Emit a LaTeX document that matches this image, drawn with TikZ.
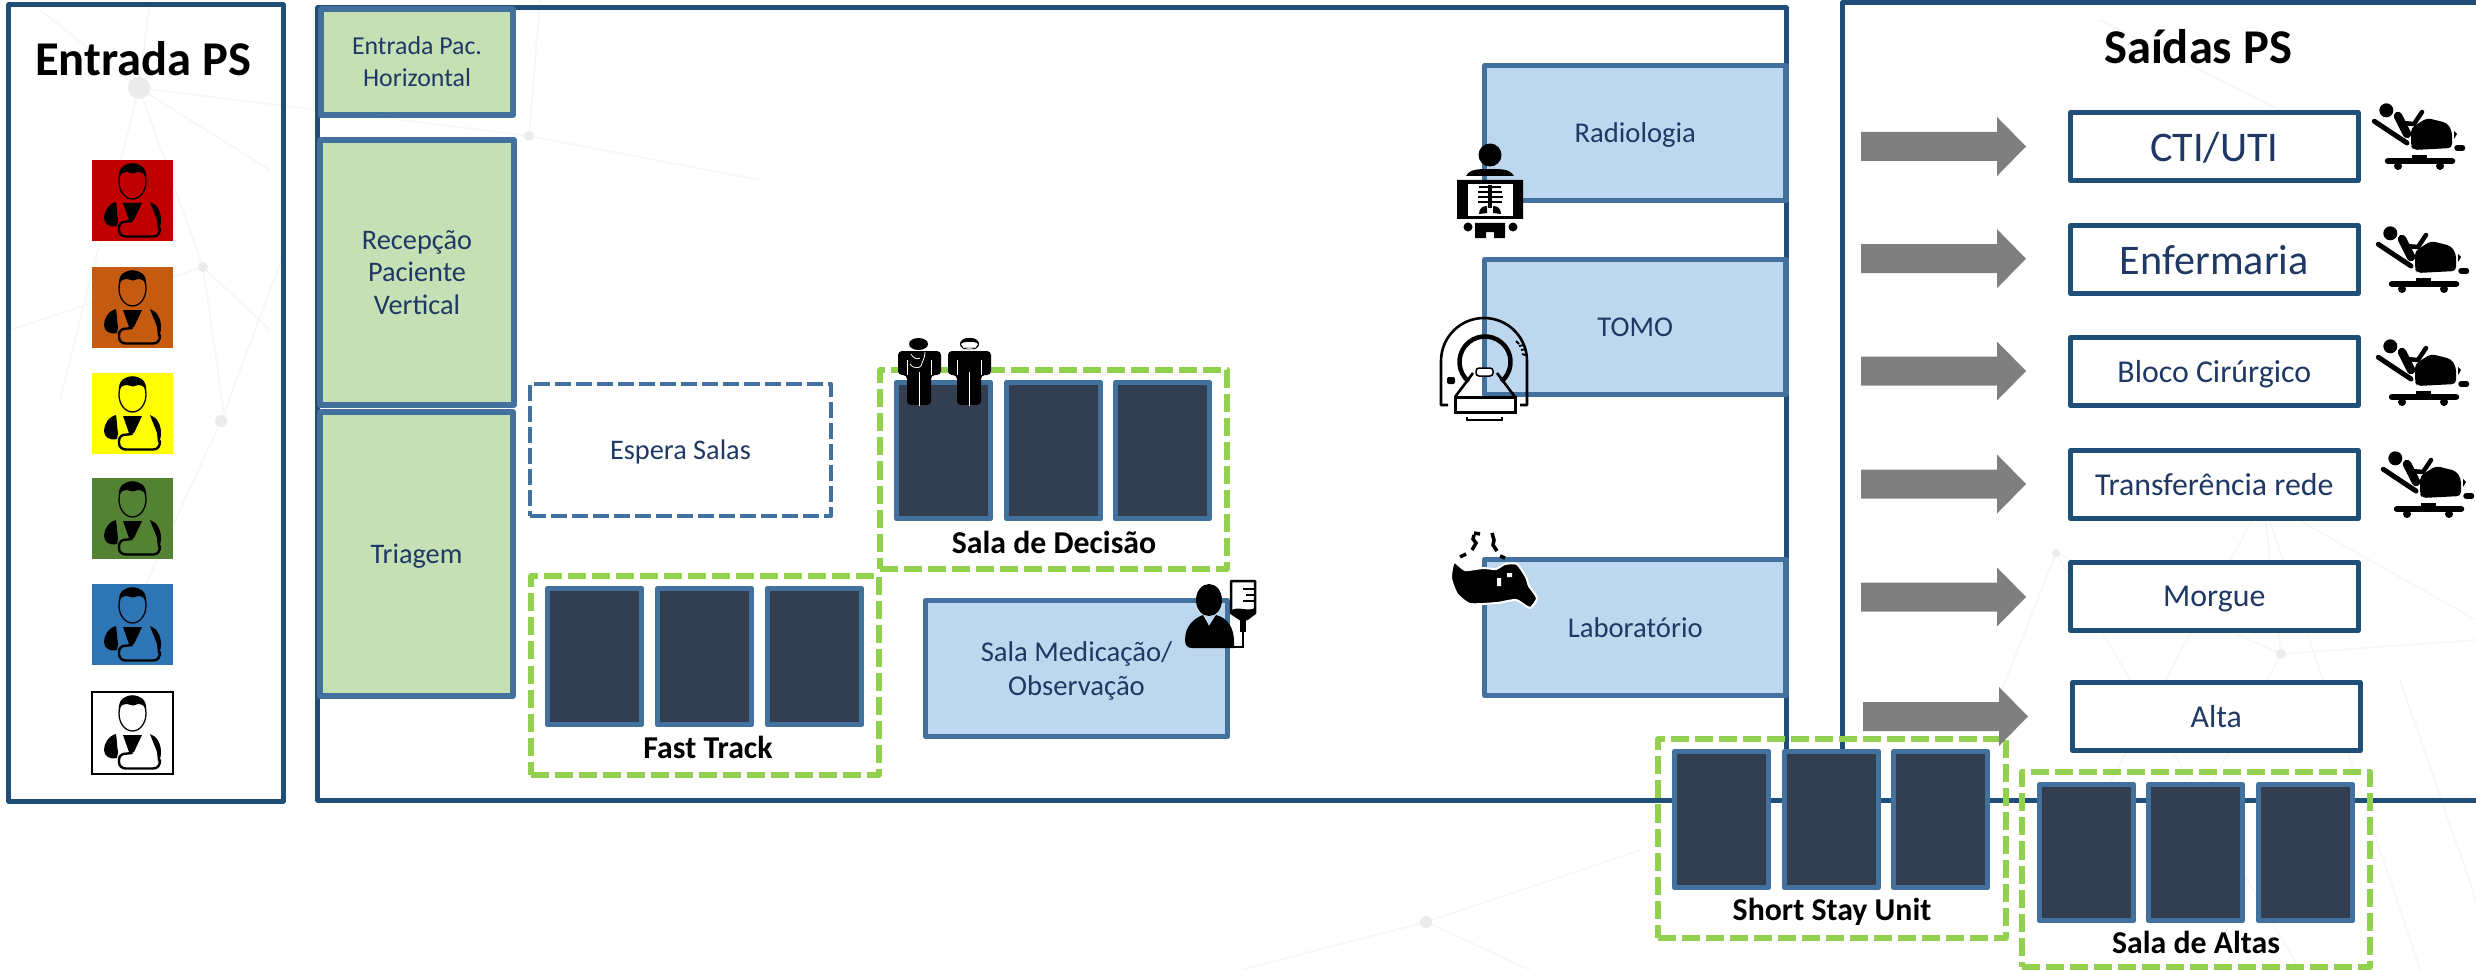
\documentclass[tikz,border=0pt]{standalone}
\usepackage{fontspec}
\setmainfont{Carlito}
\definecolor{navy}{HTML}{1F4E79}
\definecolor{steel}{HTML}{41719C}
\definecolor{leaf}{HTML}{C5E0B4}
\definecolor{sky}{HTML}{BDD7EE}
\definecolor{slate}{HTML}{333F50}
\definecolor{lime}{HTML}{92D050}
\definecolor{txt}{HTML}{1F3864}
\definecolor{arrowgrey}{HTML}{7F7F7F}
\definecolor{bgline}{HTML}{F7F7F7}
\definecolor{bgdot}{HTML}{EBEBEB}
\definecolor{tred}{HTML}{C00000}
\definecolor{torange}{HTML}{C55A11}
\definecolor{tyellow}{HTML}{FFFF00}
\definecolor{tgreen}{HTML}{548235}
\definecolor{tblue}{HTML}{2E75B6}
\newcommand\boxat[7]{%
  \pgfmathsetmacro\cx{(#3+#5)/2}%
  \pgfmathsetmacro\cy{(#4+#6)/2}%
  \pgfmathsetmacro\bw{(#5-#3)*0.01}%
  \pgfmathsetmacro\bh{(#6-#4)*0.01}%
  \node[#2,minimum width=\bw cm,minimum height=\bh cm] (#1) at (\cx,\cy) {#7};}
\newcommand\roomat[3]{\node[roombox,anchor=north west] (#1) at (#2+2.5,#3+2.5) {};}
\newcommand\blockarrow[2]{%
  \fill[arrowgrey] (#1,#2-14.5) -- (#1+136,#2-14.5) -- (#1+136,#2-29.5) -- (#1+165,#2) -- (#1+136,#2+29.5) -- (#1+136,#2+14.5) -- (#1,#2+14.5) -- cycle;}
\newcommand\patient[4]{%
  \node[triagesq,fill=#4,anchor=north west] (#1) at (#2,#3) {};
  \begin{scope}[shift={(#2,#3)}]
    \draw[line width=0.013cm] (40.5,21.5) ellipse [x radius=13.5,y radius=17.5];
    \fill (27,18) .. controls (26,7) and (33,3.5) .. (40.5,3.5) .. controls (48,3.5) and (55,7) .. (54,18)
      .. controls (53,14) and (50,12) .. (46,12) -- (41,13.5) -- (35,12) .. controls (31,12) and (28,14) .. (27,18) -- cycle;
    \fill (24,42) .. controls (16,44) and (12,52) .. (12,58) .. controls (12,64) and (18,68) .. (25,66)
      -- (26,60) .. controls (25,54) and (25,48) .. (24,42) -- cycle;
    \fill (58,42) .. controls (65,44) and (69,52) .. (69,60) .. controls (69,64) and (68,68) .. (66,70)
      -- (65,60) .. controls (63,54) and (60,48) .. (58,42) -- cycle;
    \fill (31,43) -- (50,43) -- (42,60) -- (37,60) -- cycle;
    \draw[line width=0.024cm,line cap=round,line join=round] (40,61) -- (31,62) .. controls (27,64) and (27,66) .. (27,70)
      .. controls (27,74) and (30,76.5) .. (34,76.5) -- (61,76.5) .. controls (66,76.5) and (68,73) .. (68,68);
  \end{scope}}
\newcommand\doctorbody[2]{%
  \begin{scope}[shift={(#1,#2)}]
    \fill[rounded corners=0.04cm] (0,13) -- (43,13) -- (43,37) -- (33,37) -- (33,67) -- (9,67) -- (9,37) -- (0,37) -- cycle;
    \draw[white,line width=0.008cm] (21,34) -- (21,68) (9,22) -- (9,37) (33.5,22) -- (33.5,37);
  \end{scope}}
\newcommand\stretcher[2]{%
  \begin{scope}[shift={(#1,#2)}]
    \fill (15.3,7.3) circle [radius=7];
    \draw[line width=0.05cm,line cap=round] (3.3,18.3) -- (36,40);
    \draw[line width=0.085cm,line cap=round] (27,13) -- (36,31);
    \draw[line width=0.045cm,line cap=round,line join=round] (31,20) -- (43,21) -- (51,9);
    \fill[rounded corners=0.04cm] (56,15) -- (76,20) -- (81,28) -- (81,45) -- (42,47) -- (40,43) -- (40,25) -- cycle;
    \fill (83,28) -- (86,31) -- (83,36) -- cycle;
    \draw[line width=0.055cm,line cap=round] (86,45) -- (91.5,45);
    \draw[line width=0.065cm,line cap=round] (17,58) -- (81,58);
    \fill (41,52) rectangle (56,56);
    \fill (27,63) circle [radius=4] (69,63) circle [radius=4];
  \end{scope}}
\tikzset{
  x=0.01cm,y=-0.01cm,
  outerbox/.style={draw=navy,line width=0.05cm,line join=round},
  greenbox/.style={draw=steel,fill=leaf,line width=0.052cm,line join=round,outer sep=0,inner sep=0,text=txt,align=center,text depth=-0.02cm,font=\fontsize{8.05}{9.3}\selectfont},
  bluebox/.style={draw=steel,fill=sky,line width=0.052cm,line join=round,outer sep=0,inner sep=0,text=txt,align=center,text depth=-0.02cm,font=\fontsize{8.15}{9.6}\selectfont},
  roombox/.style={draw=steel,fill=slate,line width=0.052cm,line join=round,outer sep=0,inner sep=0,minimum width=0.94cm,minimum height=1.36cm},
  limebox/.style={draw=lime,line width=0.052cm,line join=round,dash pattern=on 0.18cm off 0.06cm,outer sep=0,inner sep=0},
  waitbox/.style={draw=steel,line width=0.048cm,line join=round,dash pattern=on 0.155cm off 0.055cm,outer sep=0,inner sep=0,text=txt,text depth=-0.02cm,font=\fontsize{8.05}{9.3}\selectfont},
  exitbox/.style={draw=navy,fill=white,line width=0.05cm,line join=round,outer sep=0,inner sep=0,text=txt,text depth=-0.02cm,font=\fontsize{9.05}{10}\selectfont},
  exitbig/.style={exitbox,font=\fontsize{12}{13}\selectfont},
  titletext/.style={font=\fontsize{13.8}{15}\selectfont\bfseries,text=black,inner sep=0},
  grouptext/.style={font=\fontsize{9.05}{10}\selectfont\bfseries,text=black,inner sep=0},
  triagesq/.style={minimum width=0.81cm,minimum height=0.81cm,inner sep=0,outer sep=0},
  bgl/.style={draw=bgline,line width=0.018cm},
}
\begin{document}
\begin{tikzpicture}
\useasboundingbox (0,0) rectangle (2476,970);
\clip (0,0) rectangle (2476,970);
% faint background network
\draw[bgl] (139,88) -- (40,10) (139,88) -- (60,400) (139,88) -- (270,170) (139,88) -- (203,267) (139,88) -- (150,0) (139,88) -- (320,110)
  (203,267) -- (270,330) (203,267) -- (10,330) (203,267) -- (225,421) (221,421) -- (120,640) (221,421) -- (285,250)
  (529,136) -- (320,110) (529,136) -- (540,0) (529,136) -- (760,180) (1426,922) -- (1240,970) (1426,922) -- (1640,850) (1426,922) -- (1530,970)
  (2056,553) -- (1990,720) (2056,553) -- (2281,654) (2263,500) -- (2281,654) (2263,500) -- (2100,800) (2263,500) -- (2476,620)
  (2281,654) -- (2150,900) (2281,654) -- (2476,640) (2056,553) -- (2300,970) (2263,500) -- (2420,970) (2400,680) -- (2476,900) (2100,20) -- (2280,110);
\fill[bgdot] (139,88) circle [radius=11] (203,267) circle [radius=5] (529,136) circle [radius=5] (221,421) circle [radius=6]
  (1426,922) circle [radius=6] (2056,553) circle [radius=4] (2263,500) circle [radius=5] (2281,654) circle [radius=5];
% three main frames
\boxat{entrada}{outerbox}{9}{5}{283}{801}{}
\boxat{mainframe}{outerbox}{318}{8}{1786}{800}{}
\draw[navy,line width=0.05cm,line join=round] (2500,3) coordinate (sa) -- (1842,3) -- (1842,800) -- (2500,800) coordinate (sb);
% titles
\node[titletext] (t1) at (143,59) {Entrada PS};
\node[titletext] (t2) at (2198,47) {Saídas PS};
% triage
\patient{p1}{92}{160}{tred}
\patient{p2}{92}{267}{torange}
\patient{p3}{92}{373}{tyellow}
\patient{p4}{92}{478}{tgreen}
\patient{p5}{92}{584}{tblue}
\node[triagesq,draw=black,line width=0.02cm,fill=white] (p6box) at (132.5,733) {};
\patient{p6}{92}{692}{white}
\draw[black,line width=0.02cm] (p6box.north west) rectangle (p6box.south east);
% green boxes
\boxat{epac}{greenbox,font=\fontsize{7.35}{9.1}\selectfont}{321}{9}{513}{115}{Entrada Pac.\\Horizontal}
\boxat{recep}{greenbox,text depth=0pt}{320}{140}{514}{405}{Recepção\\Paciente\\Vertical}
\boxat{triag}{greenbox}{320}{412}{513}{696}{Triagem}
% waiting
\boxat{espera}{waitbox}{530}{384}{831}{516}{Espera Salas}
% groups
\boxat{gfast}{limebox}{531}{576}{879}{775}{}
\boxat{gdec}{limebox}{880}{370}{1227}{569}{}
\roomat{f1}{545}{586}\roomat{f2}{655}{586}\roomat{f3}{765}{586}
\roomat{d1}{894}{380}\roomat{d2}{1004}{380}\roomat{d3}{1113}{380}
\node[grouptext] (lf) at (708,747) {Fast Track};
\node[grouptext] (ld) at (1054,542) {Sala de Decisão};
% medication room
\boxat{medic}{bluebox}{925.5}{600.5}{1227.5}{736.5}{Sala Medicação/\\Observação}
% diagnostic rooms
\boxat{radio}{bluebox}{1484.5}{65.5}{1786}{200.5}{Radiologia}
\boxat{tomo}{bluebox}{1484.5}{259.5}{1786}{394.5}{TOMO}
\boxat{lab}{bluebox}{1484.5}{559.5}{1786}{695.5}{Laboratório}
% exits
\boxat{cti}{exitbig}{2070.5}{112.5}{2358}{180.5}{CTI/UTI}
\boxat{enf}{exitbig}{2070.5}{225.5}{2358}{293.5}{Enfermaria}
\boxat{bloco}{exitbox}{2070.5}{337.5}{2358}{405.5}{Bloco Cirúrgico}
\boxat{transf}{exitbox}{2070.5}{450.5}{2358}{518.5}{Transferência rede}
\boxat{morgue}{exitbox}{2070.5}{562.5}{2358}{630.5}{Morgue}
\boxat{alta}{exitbox}{2072.5}{682.5}{2360}{750.5}{Alta}
% short stay and altas
\boxat{gshort}{limebox}{1658}{739}{2006}{938}{}
\boxat{galtas}{limebox}{2022}{772}{2370}{967}{}
\roomat{s1}{1672}{749}\roomat{s2}{1782}{749}\roomat{s3}{1891}{749}
\roomat{a1}{2037}{782}\roomat{a2}{2146}{782}\roomat{a3}{2256}{782}
\node[grouptext] (ls) at (1832,912) {Short Stay Unit};
\node[grouptext] (la) at (2196,942) {Sala de Altas};
% block arrows
\blockarrow{1861}{146.5}
\blockarrow{1861}{258.7}
\blockarrow{1861}{371}
\blockarrow{1861}{484}
\blockarrow{1861}{597}
\blockarrow{1863}{716.5}
% stretcher icons
\stretcher{2371}{103}
\stretcher{2375}{226}
\stretcher{2375}{339}
\stretcher{2380}{451}
% doctors
\doctorbody{898}{338}
\fill (918.5,344) ellipse [x radius=9.5,y radius=6];
\draw[white,line width=0.008cm] (911,354) .. controls (913,358) and (917,360) .. (920,358) (925,352) .. controls (925,358) and (922,362) .. (921,366) .. controls (919,369) and (912,368) .. (910,364);
\doctorbody{948}{338}
\draw[line width=0.012cm,fill=white] (969.5,344) ellipse [x radius=9,y radius=5.5];
\fill (960.5,344) .. controls (961,339) and (965,338) .. (969.5,338) .. controls (974,338) and (978,339) .. (978.5,344) .. controls (975,341) and (964,341) .. (960.5,344) -- cycle;
\draw[gray!50,line width=0.01cm] (963,347) -- (976,347) (965,349.5) -- (974,349.5);
% x-ray icon
\fill (1490,155) circle [radius=11.5];
\fill (1466,176) .. controls (1470,169) and (1478,169) .. (1490,169) .. controls (1502,169) and (1510,169) .. (1514,176) -- cycle;
\fill[even odd rule] (1457,180) rectangle (1523,219) (1468,184) rectangle (1513,216);
\fill[white] (1468,184) rectangle (1513,216);
\draw[line width=0.035cm] (1490,185) -- (1490,208);
\draw[line width=0.013cm] (1479,187) -- (1501,187) (1478,192) -- (1502,192) (1478,197) -- (1503,197) (1478,202) -- (1502,202);
\fill (1479,214) .. controls (1479,208) and (1483,206) .. (1487,206) -- (1487,213) -- cycle;
\fill (1501,214) .. controls (1501,208) and (1497,206) .. (1493,206) -- (1493,213) -- cycle;
\fill (1468,227) circle [radius=4.5] (1513,227) circle [radius=4.5];
\fill (1475,223) -- (1505,223) -- (1505,238) -- (1494,238) -- (1494,232) -- (1486,232) -- (1486,238) -- (1475,238) -- cycle;
% CT icon
\draw[line width=0.026cm,line join=round] (1448,405) -- (1441,405) -- (1441,361) arc [start angle=180,end angle=360,radius=43] -- (1527,405) -- (1520,405);
\draw[line width=0.045cm] (1468.6,381.5) arc [start angle=130,end angle=410,radius=25.5];
\draw[line width=0.015cm,fill=white,rounded corners=0.03cm] (1476,368) rectangle (1493,376);
\draw[line width=0.026cm] (1473,373) -- (1455,397) (1497,373) -- (1515,397);
\draw[line width=0.03cm,fill=white] (1455,397) rectangle (1515,412);
\draw[line width=0.02cm] (1467,417) -- (1467,420) -- (1502,420) -- (1502,417);
\fill[rounded corners=0.02cm] (1447,377) rectangle (1455,384);
\draw[line width=0.018cm] (1516,341) -- (1519,344) (1519,346) -- (1524,345) (1521,350) -- (1526,349) (1522,354) -- (1525,355);
% flask icon
\draw[line width=0.035cm] (1474,533) -- (1480,534) (1474,535) -- (1473,539) -- (1476,543) -- (1472,550) (1492,533) -- (1494,540) -- (1493,545) -- (1497,551)
  (1460,557) -- (1466,554) (1500,556) -- (1505,558);
\draw[white,line width=0.02cm,fill=black] plot [smooth cycle,tension=0.35] coordinates {(1454,562) (1465,570) (1483,568) (1496,569) (1505,564) (1517,564) (1526,577) (1529,586) (1537,598) (1530,608) (1516,600) (1497,603) (1470,604) (1457,594) (1451,578)};
\fill[white] (1497,578) rectangle (1501,586) (1507,573) rectangle (1512,577);
% medication icon
\fill (1209,600) ellipse [x radius=13,y radius=16];
\fill (1185,640) .. controls (1185,625) and (1195,618) .. (1203,615) -- (1209,626) -- (1216,615) .. controls (1228,618) and (1234,628) .. (1234,642) -- (1234,648) -- (1192,648) .. controls (1187,648) and (1185,645) .. (1185,640) -- cycle;
\draw[line width=0.025cm,fill=white,line join=round] (1231,581) -- (1255,581) -- (1255,613) -- (1247,619) -- (1240,619) -- (1231,613) -- cycle;
\draw[line width=0.015cm] (1243,589) -- (1254,589) (1246,595) -- (1254,595) (1243,601) -- (1254,601);
\fill (1232,610) .. controls (1238,606) and (1248,612) .. (1255,608) -- (1255,613) -- (1247,620) -- (1240,620) -- (1232,613) -- cycle;
\fill (1240,620) rectangle (1246,632);
\draw[line width=0.013cm] (1243,632) -- (1243,647) -- (1234,647);
\end{tikzpicture}
\end{document}
